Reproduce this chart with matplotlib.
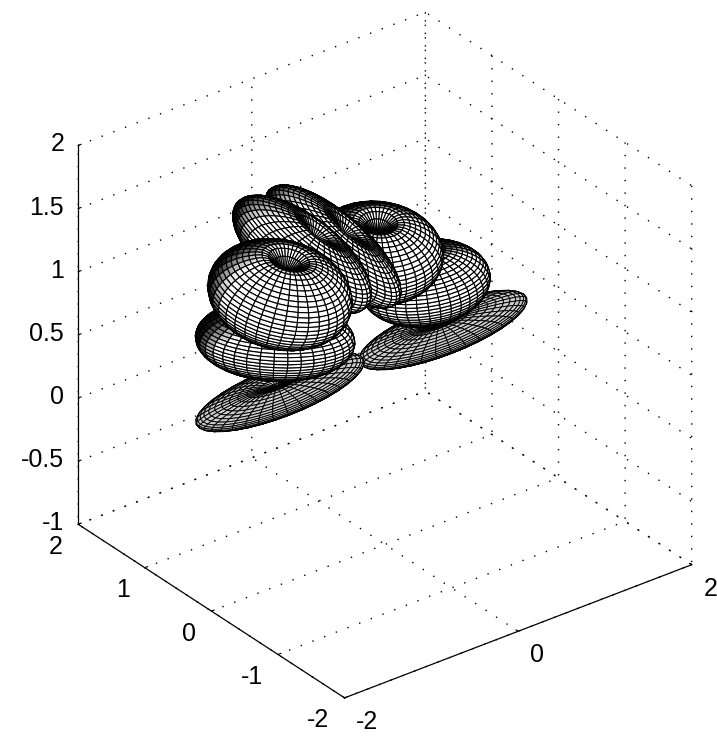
import numpy as np
import matplotlib
matplotlib.use("Agg")
from matplotlib import pyplot as plt

# tick values of the three axes
x_ticks = [-2, 0, 2]
y_ticks = [-2, -1, 0, 1, 2]
z_ticks = [-1, -0.5, 0, 0.5, 1, 1.5, 2]
z_labels = ["-1", "-0.5", "0", "0.5", "1", "1.5", "2"]

# lobes, back to front: centre, radius, half height, tilt and lean (degrees)
lobe_x = [0.648, -1.128, 0.648, 0.317, -0.076, -0.428, -1.019, -0.858]
lobe_y = [-0.026, 0.107, 0.244, 0.553, 0.681, 0.688, 0.322, 0.459]
lobe_z = [0.536, 0.468, 0.817, 1.03, 1.145, 1.173, 0.778, 1.047]
lobe_r = [0.82, 0.82, 0.60, 0.62, 0.78, 0.76, 0.73, 0.67]
lobe_c = [0.09, 0.09, 0.34, 0.38, 0.25, 0.30, 0.32, 0.42]
lobe_tilt = [21, 21, 8, -5, -41, -38, -3, -15]
lobe_lean = [15, 15, 25, 36, 14, 14, 18, 31]

plt.rcParams['font.family'] = ['Liberation Sans', 'DejaVu Sans']
plt.rcParams['axes.unicode_minus'] = False
plt.rcParams['grid.color'] = 'k'
plt.rcParams['grid.linewidth'] = 1.0
plt.rcParams['grid.linestyle'] = (0, (1, 8))

AZ, EL = -127.5, 30
Z_STRETCH = 1.325  # the box is a cube, z only spans 3 units

az, el = np.radians(AZ), np.radians(EL)
right = np.array([-np.sin(az), np.cos(az), 0])
up = np.array([-np.cos(az) * np.sin(el), -np.sin(az) * np.sin(el), np.cos(el)])
toward = np.array([np.cos(az) * np.cos(el), np.sin(az) * np.cos(el), np.sin(el)])
light = 0.45 * right - 0.35 * up + 0.80 * toward
light = light / np.linalg.norm(light)

fig = plt.figure(figsize=(7.17, 7.40), dpi=100)
ax = fig.add_axes([25.5 / 717, 25.5 / 740, 700 / 717, 700 / 740], projection='3d', proj_type='ortho')
ax.computed_zorder = False
ax.view_init(elev=EL, azim=AZ)
ax.set_box_aspect((1, 1, 1), zoom=1.051)

for i in range(len(lobe_x)):
    flat = lobe_c[i] < 0.2
    phi = np.linspace(0, np.pi, 27 if flat else 33)
    psi = np.linspace(0, 2 * np.pi, 37)
    PHI, PSI = np.meshgrid(phi, psi, indexing='ij')

    t, l = np.radians(lobe_tilt[i]), np.radians(lobe_lean[i])
    e1 = np.cos(t) * right + np.sin(t) * up
    n = np.cos(l) * (-np.sin(t) * right + np.cos(t) * up) + np.sin(l) * toward
    e2 = np.cross(n, e1)
    rad = lobe_r[i] * np.sin(PHI)
    # the pole of every lobe is pressed in
    hgt = lobe_c[i] * np.cos(PHI) * (1 - 0.5 * np.exp(-(np.sin(PHI) / 0.2) ** 2))
    P = (rad * np.cos(PSI))[..., None] * e1 + (rad * np.sin(PSI))[..., None] * e2 + hgt[..., None] * n

    # facet shading from the diagonals
    d1 = P[1:, 1:] - P[:-1, :-1]
    d2 = P[1:, :-1] - P[:-1, 1:]
    nrm = np.cross(d2, d1)
    nrm = nrm / (np.linalg.norm(nrm, axis=-1, keepdims=True) + 1e-12)
    g = np.clip(2.2 * (nrm @ light) + 0.5, 0.05, 1)
    if flat:
        g = np.maximum(g, 0.8)
    cols = np.stack([g, g, g, np.ones_like(g)], axis=-1)

    ax.plot_surface(lobe_x[i] + P[..., 0], lobe_y[i] + P[..., 1], lobe_z[i] + P[..., 2] / Z_STRETCH,
                    rstride=1, cstride=1, facecolors=cols, edgecolor='k',
                    linewidth=0.65 if flat else 0.8, shade=False, zorder=i + 2)

ax.set_xlim(-2, 2, view_margin=0)
ax.set_ylim(-2, 2, view_margin=0)
ax.set_zlim(-1, 2, view_margin=0)
ax.set_xticks(x_ticks)
ax.set_yticks(y_ticks)
ax.set_zticks(z_ticks)
ax.set_zticklabels(z_labels)
ax.tick_params(axis='both', labelsize=18)
ax.tick_params(axis='z', labelsize=18, pad=-2)

for a, ha in ((ax.xaxis, 'left'), (ax.yaxis, 'right'), (ax.zaxis, 'right')):
    a.pane.set_visible(False)
    a.line.set_color('k')
    a.line.set_linewidth(0.9)
    a._axinfo['tick'].update(inward_factor=0.0, outward_factor=0.1)
    a._axinfo['tick']['linewidth'] = {True: 0.8, False: 0.5}
    for lab in a.get_ticklabels():
        lab.set(ha=ha, va='center')

fig.savefig("out.png", dpi=100)
